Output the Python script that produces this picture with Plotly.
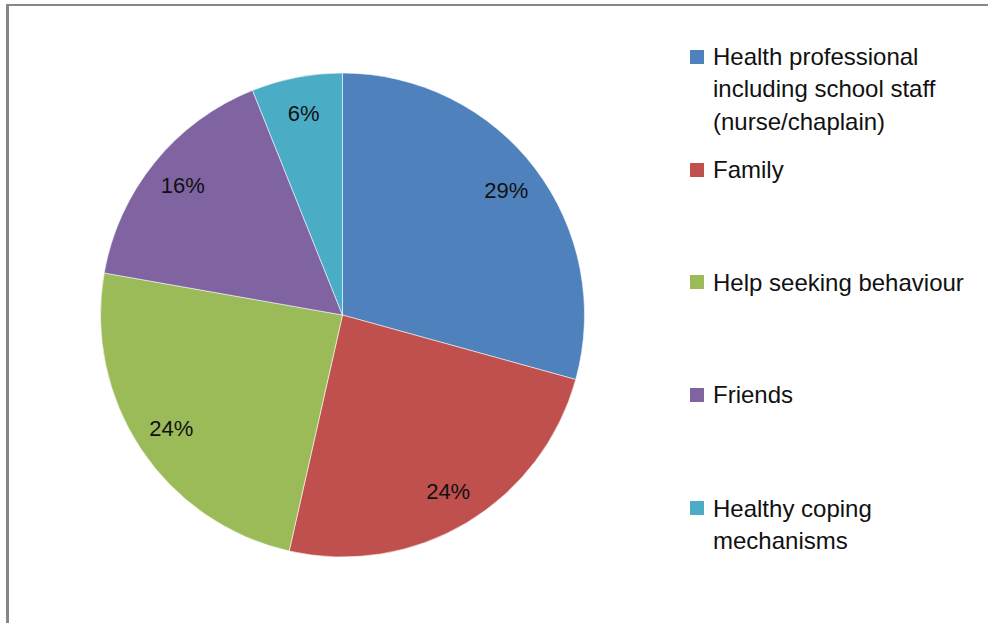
import plotly.graph_objects as go

# Responses grouped by source of support
labels = [
    "Health professional including school staff (nurse/chaplain)",
    "Family",
    "Help seeking behaviour",
    "Friends",
    "Healthy coping mechanisms",
]
legend_lines = [
    ["Health professional", "including school staff", "(nurse/chaplain)"],
    ["Family"],
    ["Help seeking behaviour"],
    ["Friends"],
    ["Healthy coping", "mechanisms"],
]
counts = [29, 24, 24, 16, 6]
colors = ["#4F81BD", "#C0504D", "#9BBB59", "#8064A2", "#4BACC6"]

W, H = 988, 623
FONT = "Liberation Sans"
pie_domain = dict(x=[100.5 / W, 584.5 / W], y=[66 / H, 550 / H])

fig = go.Figure()
# Filled slices
fig.add_trace(go.Pie(
    labels=labels,
    values=counts,
    sort=False,
    direction="clockwise",
    rotation=0,
    marker=dict(colors=colors, line=dict(color="rgba(255,255,255,0.55)", width=1)),
    textinfo="none",
    domain=pie_domain,
    showlegend=False,
    hoverinfo="label+value+percent",
))
# Percentage labels, set in an outer ring of the same slices
fig.add_trace(go.Pie(
    labels=labels,
    values=counts,
    sort=False,
    direction="clockwise",
    rotation=0,
    hole=0.7,
    marker=dict(colors=["rgba(0,0,0,0)"] * len(counts), line=dict(width=0)),
    texttemplate="%{percent:.0%}",
    textposition="inside",
    insidetextorientation="horizontal",
    textfont=dict(family=FONT, size=22, color="#111111"),
    domain=pie_domain,
    showlegend=False,
    hoverinfo="skip",
))

# Legend drawn as swatches plus text lines
row_tops = [57, 170, 282, 395, 508]
line_gap = 32
shapes = []
annotations = []
for color, lines, y0 in zip(colors, legend_lines, row_tops):
    shapes.append(dict(
        type="rect", xref="paper", yref="paper",
        x0=690 / W, x1=704 / W, y0=1 - (y0 - 7) / H, y1=1 - (y0 + 7) / H,
        fillcolor=color, line=dict(width=0),
    ))
    for i, txt in enumerate(lines):
        annotations.append(dict(
            text=txt, xref="paper", yref="paper",
            x=711 / W, y=1 - (y0 + i * line_gap) / H,
            xanchor="left", yanchor="middle", showarrow=False,
            font=dict(family=FONT, size=24, color="#111111"),
        ))

# Chart frame (top and left edges)
shapes.append(dict(type="line", xref="paper", yref="paper",
                   x0=6 / W, x1=1, y0=1 - 5 / H, y1=1 - 5 / H,
                   line=dict(color="#878787", width=2)))
shapes.append(dict(type="line", xref="paper", yref="paper",
                   x0=7.5 / W, x1=7.5 / W, y0=1 - 4 / H, y1=0,
                   line=dict(color="#878787", width=3)))

fig.update_layout(
    width=W, height=H,
    margin=dict(l=0, r=0, t=0, b=0),
    paper_bgcolor="white",
    plot_bgcolor="white",
    shapes=shapes,
    annotations=annotations,
)

fig.write_html("out.html")
